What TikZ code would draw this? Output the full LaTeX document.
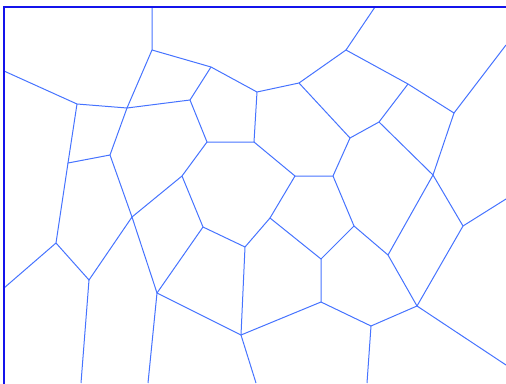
\documentclass[tikz,border=0pt]{standalone}
\definecolor{frameblue}{RGB}{20,20,235}
\definecolor{edgeblue}{RGB}{70,115,255}

\begin{document}
\begin{tikzpicture}[x=1pt,y=-1pt,edge/.style={draw=edgeblue,line width=1pt},frame/.style={draw=frameblue,line width=2.4pt}]
\useasboundingbox (0,0) rectangle (506,383);
\clip (0,0) rectangle (506,383);
% cell corners
\coordinate (a) at (152,50);
\coordinate (b) at (211,67);
\coordinate (c) at (257,92);
\coordinate (d) at (77,104);
\coordinate (e) at (127,108);
\coordinate (f) at (190,100);
\coordinate (g) at (207,142);
\coordinate (h) at (254,142);
\coordinate (i) at (68,163);
\coordinate (j) at (110,155);
\coordinate (k) at (182,176);
\coordinate (l) at (132,217);
\coordinate (m) at (203,227);
\coordinate (n) at (56,243);
\coordinate (o) at (89,280);
\coordinate (p) at (157,293);
\coordinate (q) at (245,247);
\coordinate (r) at (241,335);
\coordinate (s) at (270,218);
\coordinate (t) at (321,302);
\coordinate (u) at (321,259);
\coordinate (v) at (354,226);
\coordinate (w) at (388,255);
\coordinate (x) at (417,306);
\coordinate (y) at (371,326);
\coordinate (z) at (463,226);
\coordinate (aa) at (295,176);
\coordinate (bb) at (346,50);
\coordinate (cc) at (299,83);
\coordinate (dd) at (350,138);
\coordinate (ee) at (379,122);
\coordinate (ff) at (408,84);
\coordinate (gg) at (454,113);
\coordinate (hh) at (433,175);
\coordinate (jj) at (333,176);
% open ends at the border
\coordinate (aT) at (152,7);
\coordinate (bbT) at (375,7);
\coordinate (dL) at (4,71);
\coordinate (nL) at (4,288);
\coordinate (oB) at (81,383);
\coordinate (pB) at (148,383);
\coordinate (rB) at (256,383);
\coordinate (yB) at (367,383);
\coordinate (xR) at (506,365);
\coordinate (zR) at (506,199);
\coordinate (ggR) at (506,45);
% edges
\draw[edge] (aT)--(a)--(b)--(c);
\draw[edge] (a)--(e)--(j)--(l);
\draw[edge] (dL)--(d)--(e)--(f)--(b);
\draw[edge] (f)--(g)--(h)--(c);
\draw[edge] (d)--(i)--(j);
\draw[edge] (g)--(k)--(l);
\draw[edge] (k)--(m)--(p);
\draw[edge] (i)--(n)--(nL);
\draw[edge] (n)--(o)--(l)--(p)--(pB);
\draw[edge] (o)--(oB);
\draw[edge] (m)--(q)--(r)--(rB);
\draw[edge] (p)--(r)--(t)--(u)--(s)--(q);
\draw[edge] (u)--(v)--(w)--(x)--(y)--(t);
\draw[edge] (y)--(yB);
\draw[edge] (x)--(xR);
\draw[edge] (x)--(z)--(zR);
\draw[edge] (w)--(hh)--(z);
\draw[edge] (s)--(aa)--(h);
\draw[edge] (aa)--(jj)--(v);
\draw[edge] (jj)--(dd)--(cc)--(c);
\draw[edge] (bbT)--(bb)--(cc);
\draw[edge] (bb)--(ff)--(gg)--(ggR);
\draw[edge] (dd)--(ee)--(ff);
\draw[edge] (ee)--(hh)--(gg);
% border
\draw[frame] (4,390)--(4,7)--(512,7);
\end{tikzpicture}
\end{document}
